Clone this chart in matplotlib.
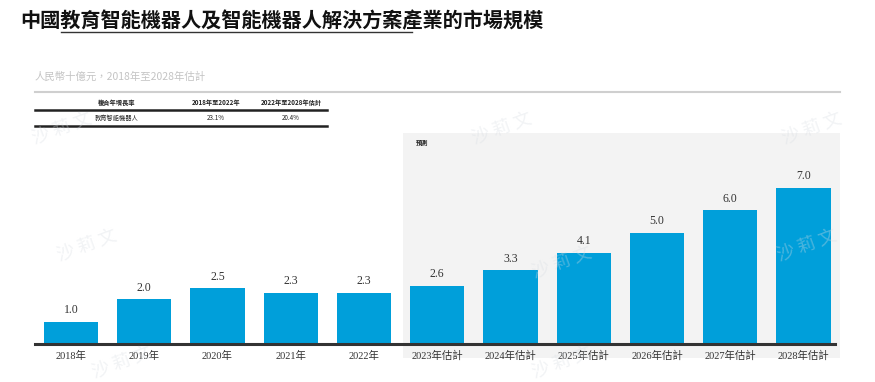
import matplotlib.pyplot as plt
from matplotlib.patches import Rectangle
from matplotlib.lines import Line2D

# data
years = ['2018年', '2019年', '2020年', '2021年', '2022年', '2023年估計', '2024年估計',
         '2025年估計', '2026年估計', '2027年估計', '2028年估計']
values = [1.0, 2.0, 2.5, 2.3, 2.3, 2.6, 3.3, 4.1, 5.0, 6.0, 7.0]
table_header = ['複合年增長率', '2018年至2022年', '2022年至2028年估計']
table_row = ['教育智能機器人', '23.1%', '20.4%']

W, H = 875, 382
fig = plt.figure(figsize=(W / 100, H / 100), dpi=100)
fig.patch.set_facecolor('white')

def fx(px):
    return px / W

def fy(py):
    return 1 - py / H

cjk = ['Noto Sans CJK TC', 'DejaVu Sans']
serif = ['Liberation Serif', 'Noto Sans CJK TC']

# forecast shaded area (behind the bars)
fig.patches.append(Rectangle((fx(403), fy(358)), fx(840) - fx(403), fy(133) - fy(358),
                             transform=fig.transFigure, facecolor='#f3f3f3',
                             edgecolor='none', zorder=-2))
fig.text(fx(416), fy(142), '預測', fontsize=4.5, fontweight='bold', family=cjk,
         color='#222222', va='center', ha='left', zorder=-1)

# watermarks
for x, y in [(30, 128), (55, 245), (90, 362), (470, 128), (530, 262), (530, 362),
             (780, 128), (775, 245)]:
    fig.text(fx(x), fy(y), '沙 莉 文', fontsize=13, family=cjk, color='#d8dde3',
             alpha=0.35, rotation=20, ha='left', va='center', zorder=3)

# title
fig.text(fx(20), fy(21), '中國教育智能機器人及智能機器人解決方案產業的市場規模',
         fontsize=14.5, fontweight='bold', family=cjk, color='#111111',
         ha='left', va='center')
fig.lines.append(Line2D([fx(61), fx(412)], [fy(32), fy(32)], transform=fig.transFigure,
                        color='#333333', lw=1))

# subtitle + rule
fig.text(fx(35), fy(77), '人民幣十億元，2018年至2028年估計', fontsize=7.5, family=cjk,
         color='#c4c4c4', ha='left', va='center')
fig.lines.append(Line2D([fx(35), fx(840)], [fy(92), fy(92)], transform=fig.transFigure,
                        color='#cfcfcf', lw=1.5))

# cagr table
cols = [117, 216, 291]
for x, t in zip(cols, table_header):
    fig.text(fx(x), fy(103), t, fontsize=4.5, fontweight='bold', family=cjk,
             color='#222222', ha='center', va='center')
for x, t in zip(cols, table_row):
    fig.text(fx(x), fy(118), t, fontsize=4.5, family=cjk, color='#222222',
             ha='center', va='center')
for y in [109.5, 126]:
    fig.lines.append(Line2D([fx(35), fx(327)], [fy(y), fy(y)], transform=fig.transFigure,
                            color='#222222', lw=1.8))

# bars
ax = fig.add_axes([fx(35), fy(344), fx(835) - fx(35), fy(133) - fy(344)])
ax.patch.set_alpha(0)
x = list(range(len(values)))
bars = ax.bar(x, values, width=0.74, color='#009fda', zorder=2)
ax.set_xlim(-0.49, 10.43)
ax.set_ylim(0, 211 / 22.3)
for b, v in zip(bars, values):
    ax.annotate(f'{v:.1f}', (b.get_x() + b.get_width() / 2, v), xytext=(0, 4),
                textcoords='offset points', ha='center', va='bottom', fontsize=8.5,
                family=serif, color='#333333')
ax.set_xticks(x)
ax.set_xticklabels(years, fontsize=7.5, family=serif, color='#333333')
ax.tick_params(axis='x', length=0, pad=5)
ax.set_yticks([])
for s in ['top', 'right', 'left']:
    ax.spines[s].set_visible(False)
ax.spines['bottom'].set_color('#333333')
ax.spines['bottom'].set_linewidth(2.2)

fig.savefig('out.png', dpi=100)
